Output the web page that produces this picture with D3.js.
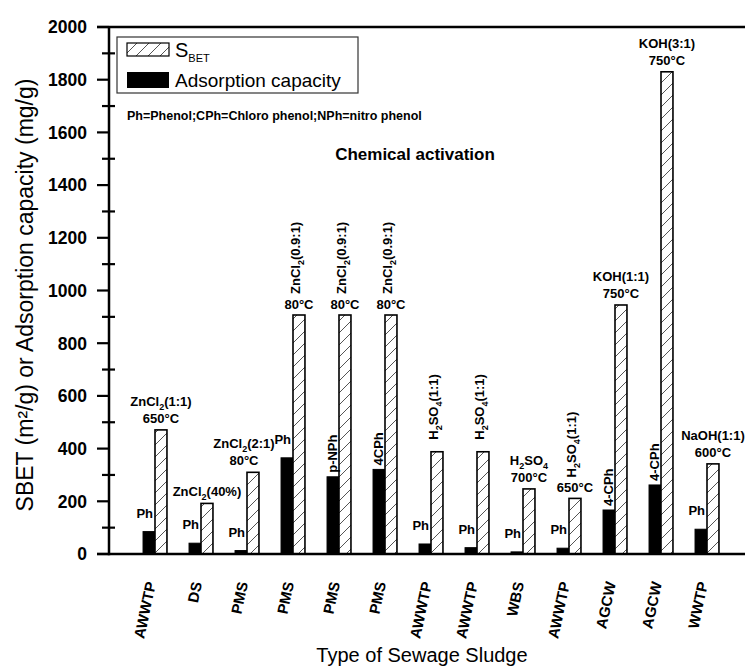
<!DOCTYPE html>
<html><head><meta charset="utf-8">
<script src="https://cdn.jsdelivr.net/npm/d3@7"></script>
<style>
body{margin:0;background:#fff;}
svg{display:block;font-family:Arial,"Liberation Sans",sans-serif;}
</style></head>
<body><svg id="c" width="745" height="668"></svg>
<script>
const categories = ["AWWTP","DS","PMS","PMS","PMS","PMS","AWWTP","AWWTP","WBS","AWWTP","AGCW","AGCW","WWTP"];
const sbet = [471,192,310,907,907,907,388,388,247,211,945,1830,342];
const adsorption = [85,41,13,365,293,321,38,24,8,22,167,262,94];
const adsorbates = ["Ph","Ph","Ph","Ph","p-NPh","4CPh","Ph","Ph","Ph","Ph","4-CPh","4-CPh","Ph"];
const activatorVertical = ["","","","ZnCl_{2}(0.9:1)","ZnCl_{2}(0.9:1)","ZnCl_{2}(0.9:1)","H_{2}SO_{4}(1:1)","H_{2}SO_{4}(1:1)","","H_{2}SO_{4}(1:1)","","",""];
const activatorLines = [["ZnCl_{2}(1:1)","650°C"],["ZnCl_{2}(40%)"],["ZnCl_{2}(2:1)","80°C"],["80°C"],["80°C"],["80°C"],[],[],["H_{2}SO_{4}","700°C"],["650°C"],["KOH(1:1)","750°C"],["KOH(3:1)","750°C"],["NaOH(1:1)","600°C"]];
const yTicks = [0,200,400,600,800,1000,1200,1400,1600,1800,2000];
const yMinor = [100,300,500,700,900,1100,1300,1500,1700,1900];
const seriesNames = ["Adsorption capacity","S_{BET}"];
const noteText = "Ph=Phenol;CPh=Chloro phenol;NPh=nitro phenol";
const insideTitle = "Chemical activation";
const xTitle = "Type of Sewage Sludge";
const yTitle = "SBET (m²/g) or Adsorption capacity (mg/g)";

(function(){
const svg = d3.select("#c");
const L = 109, T = 27, B = 554, R = 753;

const idx = d3.range(categories.length);
const x = d3.scaleBand().domain(idx).range([L, R]).paddingInner(0.48).paddingOuter(0.74);
const xs = d3.scaleBand().domain([0,1]).range([0, x.bandwidth()]);
const y = d3.scaleLinear().domain([0,2000]).range([B, T]);

const defs = svg.append("defs");
const pat = defs.append("pattern").attr("id","hatch").attr("patternUnits","userSpaceOnUse")
  .attr("width",12).attr("height",12);
pat.append("rect").attr("width",12).attr("height",12).attr("fill","#fff");
pat.append("path").attr("d","M-1,13 L13,-1 M-3,3 L3,-3 M9,15 L15,9")
  .attr("stroke","#555").attr("stroke-width",1);

function rich(sel, str, size, subSize){
  const parts = str.split(/(_\{[^}]*\})/).filter(s=>s.length);
  let shifted = false;
  parts.forEach(p=>{
    if(p.startsWith("_{")){
      sel.append("tspan").attr("font-size",subSize).attr("dy", shifted?0:4).text(p.slice(2,-1));
      shifted = true;
    } else {
      sel.append("tspan").attr("font-size",size).attr("dy", shifted?-4:0).text(p);
      shifted = false;
    }
  });
  return sel;
}

const g = svg.append("g");
idx.forEach(i=>{
  g.append("rect").attr("x", x(i)+xs(0)).attr("y", y(adsorption[i]))
    .attr("width", xs.bandwidth()).attr("height", y(0)-y(adsorption[i]))
    .attr("fill","#000").attr("stroke","#000").attr("stroke-width",1);
  g.append("rect").attr("x", x(i)+xs(1)).attr("y", y(sbet[i]))
    .attr("width", xs.bandwidth()).attr("height", y(0)-y(sbet[i]))
    .attr("fill","url(#hatch)").attr("stroke","#000").attr("stroke-width",1.6);
});

const ann = svg.append("g").attr("font-weight","bold").attr("font-size",13).attr("fill","#000");
const nudge = {2:-9};
idx.forEach(i=>{
  const bc = x(i)+xs(0)+xs.bandwidth()/2;
  const hc = x(i)+xs(1)+xs.bandwidth()/2 + (nudge[i]||0);
  const bTop = y(adsorption[i]), hTop = y(sbet[i]);
  const lab = adsorbates[i];
  if(lab === "Ph"){
    ann.append("text").attr("x", x(i)+xs(1)-2).attr("y", bTop-14).attr("text-anchor","end").text(lab);
  } else {
    ann.append("text").attr("transform",`translate(${bc+4},${bTop-4}) rotate(-90)`).text(lab);
  }
  const lines = activatorLines[i];
  const vert = activatorVertical[i];
  let base = hTop - (vert ? (lines.length? 6 : 12) : 7);
  for(let k=lines.length-1;k>=0;k--){
    rich(ann.append("text").attr("x", hc).attr("y", base).attr("text-anchor","middle"), lines[k], 13, 9);
    base -= 17;
  }
  if(vert){
    const start = lines.length ? base + 17 - 15 : base;
    rich(ann.append("text").attr("transform",`translate(${hc+1.5},${start}) rotate(-90)`), vert, 13, 9);
  }
});

const ax = svg.append("g").attr("stroke","#000");
ax.append("line").attr("x1",L).attr("x2",L).attr("y1",T-1).attr("y2",B+1.2).attr("stroke-width",2.5);
ax.append("line").attr("x1",L-12).attr("x2",R).attr("y1",B).attr("y2",B).attr("stroke-width",2.5);
ax.append("line").attr("x1",L-12).attr("x2",R).attr("y1",T).attr("y2",T).attr("stroke-width",2.5);
ax.append("line").attr("x1",R).attr("x2",R).attr("y1",T).attr("y2",B).attr("stroke-width",2.5);
yTicks.forEach(t=>{
  ax.append("line").attr("x1",L-12).attr("x2",L).attr("y1",y(t)).attr("y2",y(t)).attr("stroke-width",2.2);
});
yMinor.forEach(t=>{
  ax.append("line").attr("x1",L-7).attr("x2",L+6).attr("y1",y(t)).attr("y2",y(t)).attr("stroke-width",2.2);
});
svg.append("g").attr("font-weight","bold").attr("font-size",17.5).attr("text-anchor","end")
  .selectAll("text").data(yTicks).join("text")
  .attr("x",87).attr("y",d=>y(d)).attr("dy","0.36em").text(d=>d);

svg.append("g").attr("font-weight","bold").attr("font-size",15).attr("text-anchor","end")
  .selectAll("text").data(idx).join("text")
  .attr("transform",i=>`translate(${x(i)+x.bandwidth()/2+1},${583}) rotate(-78)`)
  .text(i=>categories[i]);

svg.append("text").attr("x",422).attr("y",662).attr("text-anchor","middle").attr("font-size",20).text(xTitle);
svg.append("text").attr("transform","translate(33,295) rotate(-90)").attr("text-anchor","middle").attr("font-size",23).text(yTitle);
svg.append("text").attr("x",415).attr("y",160).attr("text-anchor","middle").attr("font-size",17).attr("font-weight","bold").text(insideTitle);
svg.append("text").attr("x",127).attr("y",120).attr("font-size",12.5).attr("font-weight","bold").text(noteText);

const lg = svg.append("g");
lg.append("rect").attr("x",117).attr("y",37).attr("width",241).attr("height",56).attr("fill","#fff").attr("stroke","#333").attr("stroke-width",1.2);
lg.append("rect").attr("x",127).attr("y",43).attr("width",42).attr("height",13).attr("fill","url(#hatch)").attr("stroke","#000").attr("stroke-width",1.2);
lg.append("rect").attr("x",127).attr("y",72).attr("width",42).attr("height",16).attr("fill","#000");
const s1 = lg.append("text").attr("x",175).attr("y",57);
s1.append("tspan").attr("font-size",20).text(seriesNames[1].split("_")[0]);
s1.append("tspan").attr("font-size",11).attr("dy",5).text(seriesNames[1].match(/\{(.*)\}/)[1]);
lg.append("text").attr("x",175).attr("y",87).attr("font-size",19).text(seriesNames[0]);
})();
</script></body></html>
